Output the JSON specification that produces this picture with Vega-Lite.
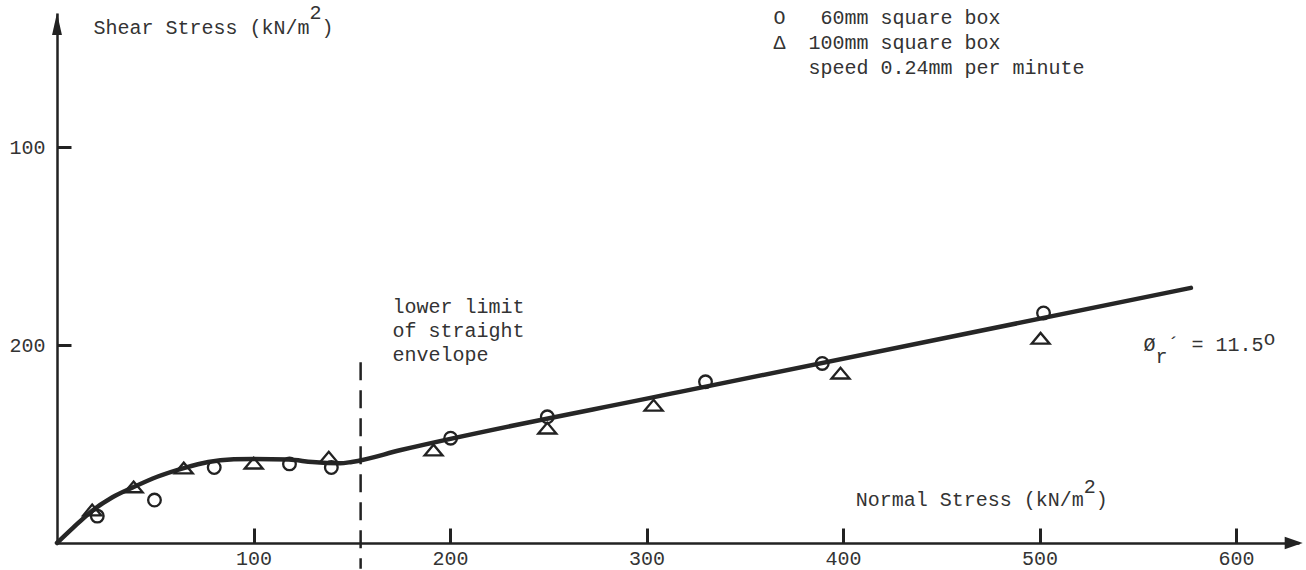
{
  "$schema": "https://vega.github.io/schema/vega-lite/v6.json",
  "autosize": "none",
  "width": 1242,
  "height": 530,
  "padding": {"left": 57, "top": 13, "right": 7, "bottom": 27},
  "background": "white",
  "config": {
    "view": {"stroke": null},
    "font": "Liberation Mono",
    "text": {"font": "Liberation Mono", "fontSize": 20, "color": "#333", "align": "left", "baseline": "alphabetic"}
  },
  "datasets": {
    "one": [{}],
    "envelope": [
      {"sigma": 0, "tau": 0},
      {"sigma": 8, "tau": 7.5},
      {"sigma": 17, "tau": 15.6},
      {"sigma": 28, "tau": 23},
      {"sigma": 39, "tau": 28.3},
      {"sigma": 51, "tau": 33.5},
      {"sigma": 64.5, "tau": 37.9},
      {"sigma": 77, "tau": 41},
      {"sigma": 90, "tau": 42.3},
      {"sigma": 100, "tau": 42.5},
      {"sigma": 118, "tau": 42.2},
      {"sigma": 130, "tau": 40.9},
      {"sigma": 144, "tau": 40.3},
      {"sigma": 150, "tau": 41},
      {"sigma": 175, "tau": 47},
      {"sigma": 317, "tau": 76.4},
      {"sigma": 577, "tau": 129}
    ],
    "points": [
      {"sigma": 20.5, "tau": 13.6, "box": "60mm"},
      {"sigma": 49.6, "tau": 21.7, "box": "60mm"},
      {"sigma": 80, "tau": 38.2, "box": "60mm"},
      {"sigma": 118.3, "tau": 40, "box": "60mm"},
      {"sigma": 139.6, "tau": 38.2, "box": "60mm"},
      {"sigma": 200.3, "tau": 53, "box": "60mm"},
      {"sigma": 249.5, "tau": 63.8, "box": "60mm"},
      {"sigma": 330, "tau": 81.5, "box": "60mm"},
      {"sigma": 389.4, "tau": 90.8, "box": "60mm"},
      {"sigma": 502, "tau": 116.3, "box": "60mm"},
      {"sigma": 17.9, "tau": 16.7, "box": "100mm"},
      {"sigma": 39, "tau": 28.4, "box": "100mm"},
      {"sigma": 64.5, "tau": 37.9, "box": "100mm"},
      {"sigma": 100.1, "tau": 40.4, "box": "100mm"},
      {"sigma": 138.3, "tau": 43.4, "box": "100mm"},
      {"sigma": 191.6, "tau": 47, "box": "100mm"},
      {"sigma": 249.5, "tau": 58.1, "box": "100mm"},
      {"sigma": 303.6, "tau": 69.7, "box": "100mm"},
      {"sigma": 398.7, "tau": 85.9, "box": "100mm"},
      {"sigma": 500.5, "tau": 103.5, "box": "100mm"}
    ]
  },
  "layer": [
    {
      "data": {"name": "envelope"},
      "mark": {"type": "line", "interpolate": "monotone", "color": "#262626", "strokeWidth": 4.5, "strokeCap": "round"},
      "encoding": {
        "x": {
          "field": "sigma", "type": "quantitative",
          "scale": {"domain": [0, 632], "nice": false, "zero": false},
          "axis": {
            "title": null, "grid": false, "values": [100, 200, 300, 400, 500, 600],
            "domainColor": "#222", "domainWidth": 2.5,
            "tickColor": "#222", "tickWidth": 3, "tickSize": -15,
            "labelFont": "Liberation Mono", "labelFontSize": 20, "labelColor": "#333",
            "labelPadding": 20, "labelFlush": false, "labelOverlap": false
          }
        },
        "y": {
          "field": "tau", "type": "quantitative",
          "scale": {"domain": [0, 268], "nice": false, "zero": false},
          "axis": {
            "title": null, "grid": false, "values": [100, 200],
            "labelExpr": "datum.value == 100 ? '200' : '100'",
            "domainColor": "#222", "domainWidth": 2.5,
            "tickColor": "#222", "tickWidth": 3, "tickSize": -14,
            "labelFont": "Liberation Mono", "labelFontSize": 20, "labelColor": "#333",
            "labelPadding": 26, "labelFlush": false, "labelOverlap": false
          }
        }
      }
    },
    {
      "data": {"name": "points"},
      "mark": {"type": "point", "filled": false, "strokeWidth": 2.3, "color": "#222", "opacity": 1},
      "encoding": {
        "x": {"field": "sigma", "type": "quantitative"},
        "y": {"field": "tau", "type": "quantitative"},
        "shape": {"field": "box", "type": "nominal", "scale": {"domain": ["60mm", "100mm"], "range": ["circle", "M-1,0.6L0,-0.6L1,0.6Z"]}, "legend": null},
        "size": {"field": "box", "type": "nominal", "scale": {"domain": ["60mm", "100mm"], "range": [160, 324]}, "legend": null}
      }
    },
    {
      "data": {"name": "one"},
      "mark": {"type": "rule", "color": "#222", "strokeWidth": 2.5, "strokeDash": [18, 10]},
      "encoding": {"x": {"datum": 154.5}, "y": {"datum": 91.4}, "y2": {"datum": -13}}
    },
    {
      "data": {"name": "one"},
      "mark": {"type": "point", "shape": "M0,-1L0.45,1L-0.45,1Z", "filled": true, "color": "#222", "size": 484, "opacity": 1},
      "encoding": {"x": {"datum": 0}, "y": {"datum": 262.4}}
    },
    {
      "data": {"name": "one"},
      "mark": {"type": "point", "shape": "M1,0L-1,-0.7L-1,0.7Z", "filled": true, "color": "#222", "size": 324, "opacity": 1},
      "encoding": {"x": {"datum": 629.3}, "y": {"datum": 0}}
    },
    {
      "data": {"name": "one"},
      "mark": {"type": "text", "text": "Shear Stress (kN/m"},
      "encoding": {"x": {"datum": 18.6}, "y": {"datum": 257.3}}
    },
    {
      "data": {"name": "one"},
      "mark": {"type": "text", "text": "2", "dx": 216},
      "encoding": {"x": {"datum": 18.6}, "y": {"datum": 264.9}}
    },
    {
      "data": {"name": "one"},
      "mark": {"type": "text", "text": ")", "dx": 228},
      "encoding": {"x": {"datum": 18.6}, "y": {"datum": 257.3}}
    },
    {
      "data": {"name": "one"},
      "mark": {"type": "text", "text": ["O", "\u0394"], "lineHeight": 25},
      "encoding": {"x": {"datum": 364.6}, "y": {"datum": 262.4}}
    },
    {
      "data": {"name": "one"},
      "mark": {"type": "text", "text": "60mm square box", "dx": 12},
      "encoding": {"x": {"datum": 382.4}, "y": {"datum": 262.4}}
    },
    {
      "data": {"name": "one"},
      "mark": {"type": "text", "text": ["100mm square box", "speed 0.24mm per minute"], "lineHeight": 25},
      "encoding": {"x": {"datum": 382.4}, "y": {"datum": 249.8}}
    },
    {
      "data": {"name": "one"},
      "mark": {"type": "text", "text": ["lower limit", "of straight", "envelope"], "lineHeight": 24},
      "encoding": {"x": {"datum": 170.7}, "y": {"datum": 116.3}}
    },
    {
      "data": {"name": "one"},
      "mark": {"type": "text", "text": "Normal Stress (kN/m"},
      "encoding": {"x": {"datum": 406.4}, "y": {"datum": 18.7}}
    },
    {
      "data": {"name": "one"},
      "mark": {"type": "text", "text": "2", "dx": 228},
      "encoding": {"x": {"datum": 406.4}, "y": {"datum": 25.3}}
    },
    {
      "data": {"name": "one"},
      "mark": {"type": "text", "text": ")", "dx": 240},
      "encoding": {"x": {"datum": 406.4}, "y": {"datum": 18.7}}
    },
    {
      "data": {"name": "one"},
      "mark": {"type": "text", "text": "\u00d8"},
      "encoding": {"x": {"datum": 552.9}, "y": {"datum": 97.1}}
    },
    {
      "data": {"name": "one"},
      "mark": {"type": "text", "text": "r", "dx": 12},
      "encoding": {"x": {"datum": 552.9}, "y": {"datum": 91}}
    },
    {
      "data": {"name": "one"},
      "mark": {"type": "text", "text": "\u00b4", "dx": 24},
      "encoding": {"x": {"datum": 552.9}, "y": {"datum": 97.1}}
    },
    {
      "data": {"name": "one"},
      "mark": {"type": "text", "text": "= 11.5", "dx": 48},
      "encoding": {"x": {"datum": 552.9}, "y": {"datum": 97.1}}
    },
    {
      "data": {"name": "one"},
      "mark": {"type": "text", "text": "o", "dx": 120},
      "encoding": {"x": {"datum": 552.9}, "y": {"datum": 100.1}}
    }
  ]
}
